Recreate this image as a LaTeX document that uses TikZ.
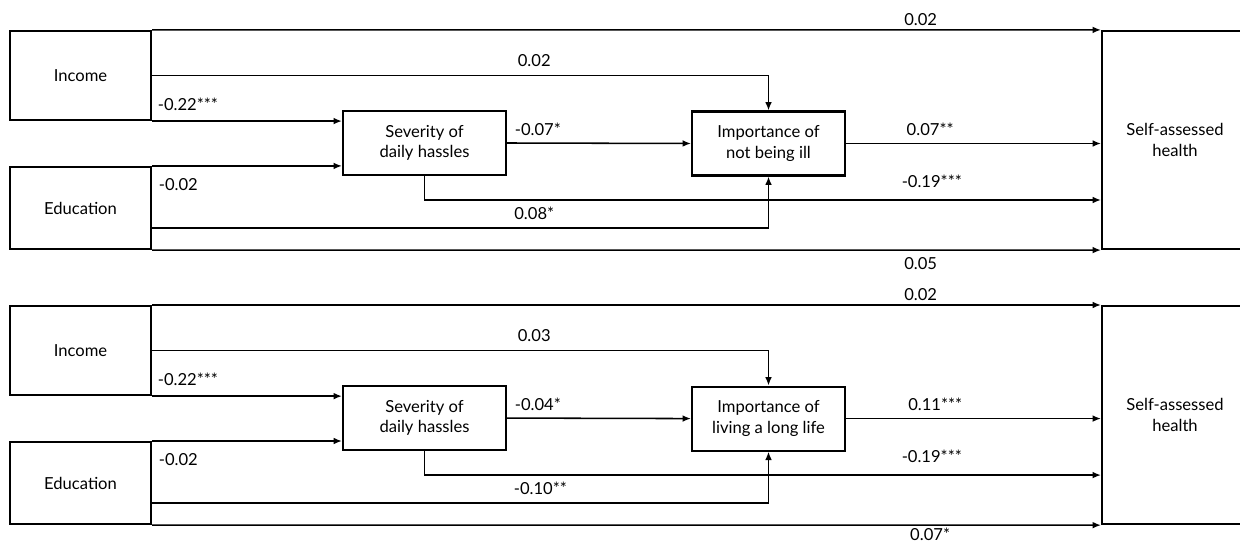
\documentclass[tikz,border=0pt]{standalone}
\usepackage{fontspec}
\setmainfont{Lato}
\usetikzlibrary{arrows.meta}

\tikzset{
  box/.style={draw, line width=1.5pt, align=center},
  link/.style={line width=1.1pt, -{Latex[length=2.1mm,width=1.7mm]}},
  coef/.style={inner sep=0pt}
}

\begin{document}
\begin{tikzpicture}[x=0.025cm, y=-0.025cm, font=\fontsize{11.8}{14.5}\selectfont]
  \useasboundingbox (0,0) rectangle (1240,543);
  \clip (0,0) rectangle (1240,543);

  % upper model
  \begin{scope}
    \node[box, minimum width=3.525cm, minimum height=2.225cm] (inc1) at (80.5,75.5) {Income};
    \node[box, minimum width=3.525cm, minimum height=2.05cm] (edu1) at (80.5,208) {Education};
    \node[box, minimum width=4.075cm, minimum height=1.6cm] (sev1) at (424.5,143) {Severity of\\daily hassles};
    \node[box, minimum width=3.825cm, minimum height=1.6cm] (imp1) at (768.5,143.5) {Importance of\\not being ill};
    \node[box, minimum width=3.65cm, minimum height=5.45cm] (sah1) at (1175,140) {Self-assessed\\health};

    \draw[link] (inc1.north east) -- node[coef, pos=0.81, above=0.1cm]{0.02} (sah1.north west);
    \draw[link] (inc1.east) -| node[coef, pos=0.31, above=0.2cm]{0.02} (imp1.north);
    \draw[link] (inc1.south east) node[coef, anchor=south west, xshift=0.125cm, yshift=0.25cm]{-0.22***}
      -- (sev1.west |- inc1.south east);
    \draw[link] (edu1.north east) node[coef, anchor=north west, xshift=0.15cm, yshift=-0.3cm]{-0.02}
      -- (sev1.west |- edu1.north east);
    \draw[link] (sev1.east) node[coef, anchor=south west, xshift=0.175cm, yshift=0.175cm]{-0.07*} -- (imp1.west);
    \draw[link] (imp1.east) -- node[coef, pos=0.33, above=0.175cm]{0.07**} (sah1.west |- imp1.east);
    \draw[link] (sev1.south) |- node[coef, pos=0.875, above=0.3cm]{-0.19***} (sah1.west |- 0,200);
    \draw[link] (edu1.east |- 0,228) -| node[coef, pos=0.31, above=0.2cm]{0.08*} (imp1.south);
    \draw[link] (edu1.south east) -- node[coef, pos=0.81, below=0.175cm]{0.05} (sah1.south west);
  \end{scope}

  % lower model
  \begin{scope}[yshift=-6.875cm]
    \node[box, minimum width=3.525cm, minimum height=2.225cm] (inc2) at (80.5,75.5) {Income};
    \node[box, minimum width=3.525cm, minimum height=2.05cm] (edu2) at (80.5,208) {Education};
    \node[box, minimum width=4.075cm, minimum height=1.6cm] (sev2) at (424.5,143) {Severity of\\daily hassles};
    \node[box, minimum width=3.825cm, minimum height=1.6cm] (imp2) at (768.5,143.5) {Importance of\\living a long life};
    \node[box, minimum width=3.65cm, minimum height=5.45cm] (sah2) at (1175,140) {Self-assessed\\health};

    \draw[link] (inc2.north east) -- node[coef, pos=0.81, above=0.1cm]{0.02} (sah2.north west);
    \draw[link] (inc2.east) -| node[coef, pos=0.31, above=0.2cm]{0.03} (imp2.north);
    \draw[link] (inc2.south east) node[coef, anchor=south west, xshift=0.125cm, yshift=0.25cm]{-0.22***}
      -- (sev2.west |- inc2.south east);
    \draw[link] (edu2.north east) node[coef, anchor=north west, xshift=0.15cm, yshift=-0.3cm]{-0.02}
      -- (sev2.west |- edu2.north east);
    \draw[link] (sev2.east) node[coef, anchor=south west, xshift=0.175cm, yshift=0.175cm]{-0.04*} -- (imp2.west);
    \draw[link] (imp2.east) -- node[coef, pos=0.35, above=0.175cm]{0.11***} (sah2.west |- imp2.east);
    \draw[link] (sev2.south) |- node[coef, pos=0.875, above=0.3cm]{-0.19***} (sah2.west |- 0,200);
    \draw[link] (edu2.east |- 0,228) -| node[coef, pos=0.315, above=0.2cm]{-0.10**} (imp2.south);
    \draw[link] (edu2.south east) -- node[coef, pos=0.82, below=0.06cm]{0.07*} (sah2.south west);
  \end{scope}
\end{tikzpicture}
\end{document}
